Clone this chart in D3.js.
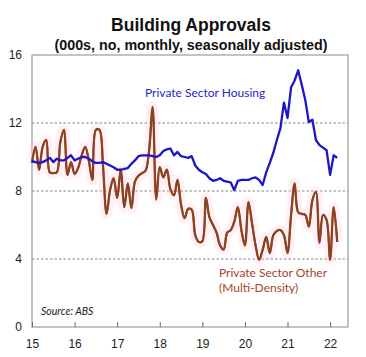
<!DOCTYPE html>
<html><head><meta charset="utf-8">
<script src="https://cdn.jsdelivr.net/npm/d3@7"></script>
<style>body{margin:0;background:#fff;}svg{display:block;}</style>
</head><body>
<svg id="c" width="366" height="357"></svg>
<script>
// Monthly data, Jan 2015 .. Mar 2022 ('000s)
const startYear = 2015;
const housing = [9.76,9.7,9.65,9.7,9.8,9.95,9.7,9.9,9.8,9.8,9.95,10.1,
 9.8,9.9,10.0,10.0,9.9,9.75,9.65,9.65,9.7,9.6,9.5,9.4,
 9.25,9.25,9.3,9.35,9.6,9.8,10.05,10.1,10.1,10.1,10.05,10.0,
 10.1,10.35,10.45,10.5,10.1,10.3,10.05,10.0,9.95,10.05,9.5,9.25,
 9.1,9.0,8.75,8.6,8.65,8.75,8.6,8.55,8.5,8.05,8.6,8.65,
 8.65,8.65,8.75,8.8,8.65,8.35,9.1,9.65,10.25,11.0,11.7,13.2,
 12.3,14.1,14.5,15.1,14.25,13.35,12.05,12.2,11.0,10.7,10.55,10.4,
 8.95,10.1,9.95];
const other = [9.65,10.6,9.25,10.6,11.0,9.1,9.05,9.1,10.9,11.6,8.95,9.7,
 9.0,9.35,10.1,10.6,9.8,8.65,11.6,11.6,9.5,6.65,8.05,8.75,
 7.6,9.25,7.05,8.45,7.0,8.55,8.9,9.05,9.2,10.4,12.95,7.5,
 9.4,8.8,9.25,8.1,7.75,8.65,7.2,6.4,6.95,6.9,5.4,5.0,
 5.05,7.6,6.45,6.0,5.55,4.8,4.55,5.55,5.7,6.2,7.05,5.7,
 4.8,7.35,6.1,4.8,3.95,4.55,5.3,4.35,5.4,5.65,5.7,5.4,
 4.35,6.6,8.45,6.75,6.65,6.6,5.9,7.45,7.95,4.95,6.6,6.3,
 3.95,7.05,5.0];
const yTicks = [0,4,8,12,16];
const xTicks = [15,16,17,18,19,20,21,22];
const seriesNames = ["Private Sector Housing","Private Sector Other","(Multi-Density)"];

const svg = d3.select("#c");
const L=32,R=348,T=55,B=327;
const x = d3.scaleLinear().domain([15, 22.42]).range([L,R]);
const y = d3.scaleLinear().domain([0,16]).range([B,T]);
const tx = i => 15 + i/12;

// gridlines
svg.append("g").selectAll("line").data(yTicks.filter(d=>d>0&&d<16)).join("line")
  .attr("x1",L).attr("x2",R).attr("y1",d=>y(d)).attr("y2",d=>y(d))
  .attr("stroke","#777").attr("stroke-width",0.9).attr("stroke-dasharray","2.5,2");

// frame
svg.append("rect").attr("x",L).attr("y",T).attr("width",R-L).attr("height",B-T)
  .attr("fill","none").attr("stroke","#888").attr("stroke-width",1);

// y axis labels
const ya = d3.axisLeft(y).tickValues(yTicks).tickSize(0).tickPadding(10).tickFormat(d3.format("d"));
const gy = svg.append("g").attr("transform",`translate(${L},0)`).call(ya);
gy.select(".domain").remove();
gy.selectAll("text").attr("font-family","Liberation Sans, Arial, sans-serif").attr("font-size",12).attr("fill","#222");

// x axis
const xa = d3.axisBottom(x).tickValues(xTicks).tickSize(-5).tickPadding(12).tickFormat(d3.format("d"));
const gx = svg.append("g").attr("transform",`translate(0,${B})`).call(xa);
gx.select(".domain").remove();
gx.selectAll("line").attr("stroke","#666");
gx.selectAll("text").attr("font-family","Liberation Sans, Arial, sans-serif").attr("font-size",12).attr("fill","#222");

// lines
const smooth = d3.line().x((d,i)=>x(tx(i))).y(d=>y(d)).curve(d3.curveCatmullRom.alpha(0.5));
const straight = d3.line().x((d,i)=>x(tx(i))).y(d=>y(d));
svg.append("path").datum(other).attr("d",smooth).attr("fill","none")
  .attr("stroke","#ffd0e2").attr("stroke-opacity",0.3).attr("stroke-width",11);
svg.append("path").datum(other).attr("d",smooth).attr("fill","none")
  .attr("stroke","#cc3020").attr("stroke-width",2.3);
svg.append("path").datum(other).attr("d",smooth).attr("fill","none")
  .attr("stroke","#7a4a22").attr("stroke-width",1.8);
svg.append("path").datum(housing).attr("d",straight).attr("fill","none")
  .attr("stroke","#1e14c8").attr("stroke-width",2.3).attr("stroke-linejoin","round");

// titles
svg.append("text").attr("x",191).attr("y",31).attr("text-anchor","middle")
  .attr("font-family","Liberation Sans, Arial, sans-serif").attr("font-weight","bold").attr("font-size",17.5).attr("fill","#111")
  .text("Building Approvals");
svg.append("text").attr("x",191).attr("y",50).attr("text-anchor","middle")
  .attr("font-family","Liberation Sans, Arial, sans-serif").attr("font-weight","bold").attr("font-size",14.3).attr("fill","#111")
  .text("(000s, no, monthly, seasonally adjusted)");

// series labels
const lf = "Lato, Open Sans, sans-serif";
svg.append("text").attr("x",145).attr("y",97).attr("font-family",lf).attr("font-size",12).attr("fill","#2a24cc").text(seriesNames[0]);
svg.append("text").attr("x",219).attr("y",277).attr("font-family",lf).attr("font-size",12).attr("fill","#a8442a").text(seriesNames[1]);
svg.append("text").attr("x",219).attr("y",292).attr("font-family",lf).attr("font-size",12).attr("fill","#a8442a").text(seriesNames[2]);
svg.append("text").attr("x",41).attr("y",315).attr("font-family",lf).attr("font-style","italic").attr("font-size",10.5).attr("fill","#222").text("Source: ABS");
</script>
</body></html>
